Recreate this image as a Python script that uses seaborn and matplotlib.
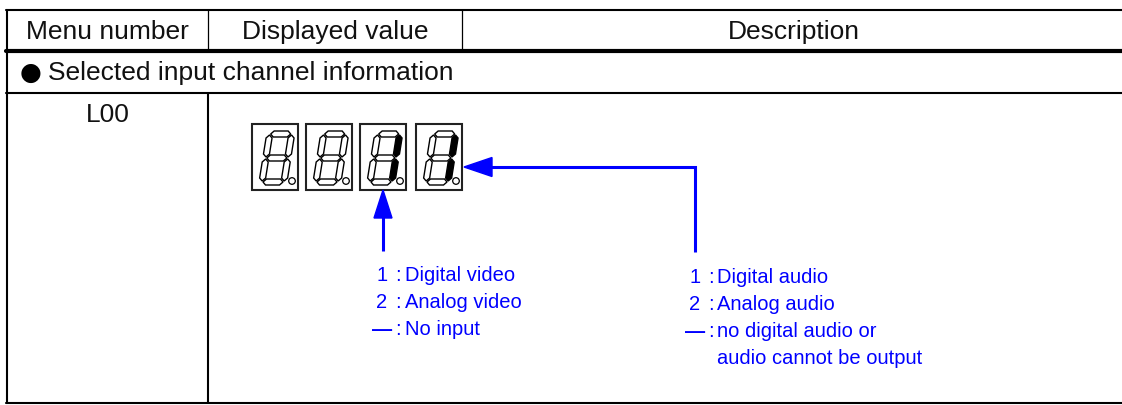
import matplotlib.pyplot as plt
import seaborn as sns
from matplotlib.patches import Polygon, Circle, Rectangle

sns.set_theme(style="white")
plt.rcParams['font.family'] = ['Liberation Sans', 'DejaVu Sans']

# Contenido de la tabla
header_labels = ['Menu number', 'Displayed value', 'Description']
section_title = 'Selected input channel information'
menu_number = 'L00'

# segmentos encendidos por digito (a..g)
digit_lit = [[], [], ['b', 'c'], ['b', 'c']]

video_codes = ['1', '2', '—']
video_labels = [['Digital video'], ['Analog video'], ['No input']]
audio_codes = ['1', '2', '—']
audio_labels = [['Digital audio'], ['Analog audio'],
                ['no digital audio or', 'audio cannot be output']]

BLUE = '#0000ff'
W, H = 1122, 406

fig, ax = plt.subplots(figsize=(W / 100, H / 100), dpi=100)
fig.subplots_adjust(0, 0, 1, 1)
ax.set_xlim(0, W)
ax.set_ylim(H, 0)
ax.axis('off')

# lineas de la tabla
col_x = [7, 208, 462, 1125]
y_top, y_head, y_sec, y_bot = 11, 52, 94, 404
ax.plot([6, W], [y_top, y_top], color='black', lw=1.5)
ax.plot([6, W], [y_head, y_head], color='black', lw=3)
ax.plot([6, W], [y_sec, y_sec], color='black', lw=1.5)
ax.plot([6, W], [y_bot, y_bot], color='black', lw=1.5)
ax.plot([7, 7], [y_top, y_bot], color='black', lw=1.5)
for x in col_x[1:3]:
    ax.plot([x, x], [y_top, y_head], color='black', lw=0.9)
ax.plot([208, 208], [y_sec, y_bot], color='black', lw=1.5)

for i, lab in enumerate(header_labels):
    ax.text((col_x[i] + col_x[i + 1]) / 2, 32, lab, ha='center', va='center',
            fontsize=19, color='#111111')

ax.text(31, 73, '●', ha='center', va='center', fontsize=18, color='black',
        family=['DejaVu Sans'])
ax.text(48, 73, section_title, ha='left', va='center', fontsize=19, color='#111111')
ax.text(108, 115, menu_number, ha='center', va='center', fontsize=19, color='#111111')

# display de 7 segmentos
seg_w, seg_h, t, gap, slant = 22, 48, 6, 1.0, 0.16
segments = {
    'a': ('h', seg_h, 0), 'g': ('h', seg_h / 2, 0), 'd': ('h', 0, 0),
    'f': ('v', 0, seg_h / 2), 'e': ('v', 0, 0),
    'b': ('v', seg_w, seg_h / 2), 'c': ('v', seg_w, 0),
}


def seg_poly(kind, a, b):
    h2 = t / 2
    if kind == 'h':
        y, x0, x1 = a, 0, seg_w
        pts = [(x0 + gap, y), (x0 + gap + h2, y + h2), (x1 - gap - h2, y + h2),
               (x1 - gap, y), (x1 - gap - h2, y - h2), (x0 + gap + h2, y - h2)]
    else:
        x, y0, y1 = a, b, b + seg_h / 2
        pts = [(x, y0 + gap), (x + h2, y0 + gap + h2), (x + h2, y1 - gap - h2),
               (x, y1 - gap), (x - h2, y1 - gap - h2), (x - h2, y0 + gap + h2)]
    return pts


box_x = [252, 306, 360, 416]
box_y, box_w, box_h = 125, 46, 66
for bx, lit in zip(box_x, digit_lit):
    ax.add_patch(Rectangle((bx, box_y), box_w, box_h, fill=False,
                           edgecolor='#222222', lw=1.5))
    ox, oy = bx + 10, box_y + 58
    for name, (kind, a, b) in segments.items():
        pts = [(ox + x + slant * y, oy - y) for x, y in seg_poly(kind, a, b)]
        ax.add_patch(Polygon(pts, closed=True, lw=1.0, edgecolor='black',
                             facecolor='black' if name in lit else 'white'))
    ax.add_patch(Circle((bx + 40, box_y + 57), 3.3, fill=False,
                        edgecolor='black', lw=0.9))

# flechas
ax.plot([383, 383], [252, 215], color=BLUE, lw=2.2, solid_capstyle='butt')
ax.add_patch(Polygon([(383, 191), (374, 219), (392, 219)], color=BLUE))
ax.plot([695, 695, 488], [253, 168, 168], color=BLUE, lw=2.2,
        solid_capstyle='butt', solid_joinstyle='miter')
ax.add_patch(Polygon([(464, 168), (492, 158.5), (492, 177.5)], color=BLUE))

# leyendas
line_step = 27


def legend_block(x_code, x_colon, x_text, y0, codes, labels):
    y = y0
    for code, lines in zip(codes, labels):
        ax.text(x_code, y, code, ha='center', va='center', fontsize=14.5,
                color=BLUE, fontweight='bold' if code == '—' else 'normal')
        ax.text(x_colon, y, ':', ha='center', va='center', fontsize=14.5, color=BLUE)
        for ln in lines:
            ax.text(x_text, y, ln, ha='left', va='center', fontsize=14.5, color=BLUE)
            y += line_step


legend_block(382, 398, 405, 276, video_codes, video_labels)
legend_block(695, 711, 717, 278, audio_codes, audio_labels)

fig.savefig('out.png', dpi=100)
